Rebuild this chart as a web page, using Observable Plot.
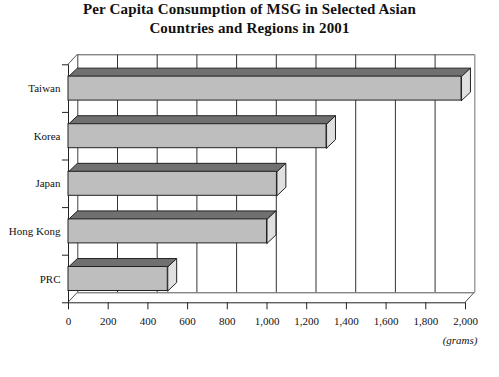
<!DOCTYPE html>
<html>
<head>
<meta charset="utf-8">
<script src="https://cdn.jsdelivr.net/npm/d3@7"></script>
<script src="https://cdn.jsdelivr.net/npm/@observablehq/plot@0.6"></script>
<style>
  html, body { margin: 0; padding: 0; background: #fff; }
  #title { width: 499px; height: 40px; text-align: center; font: bold 15px "Liberation Serif", "DejaVu Serif", serif; letter-spacing: 0.15px; line-height: 19px; color: #111; }
  #chart svg { display: block; }
</style>
</head>
<body>
<div id="title">Per Capita Consumption of MSG in Selected Asian<br>Countries and Regions in 2001</div>
<div id="chart"></div>
<script>
// Data (bottom to top)
const categories = ["PRC", "Hong Kong", "Japan", "Korea", "Taiwan"];
const values = [500, 1000, 1050, 1300, 1980];
const xTicks = [0, 200, 400, 600, 800, 1000, 1200, 1400, 1600, 1800, 2000];
const unitLabel = "(grams)";

// style constants
const half = 0.252;      // half bar thickness (y units)
const depthX = 45;       // bar depth (x units)
const depthY = 0.178;    // bar depth (y units)
const wallDx = 9.3, wallDy = -10; // back wall offset in px

const bars = categories.map((c, i) => ({c, i, v: values[i], yc: i + 0.5}));
const topFaces = bars.flatMap(b => {
  const y0 = b.yc + half, y1 = y0 + depthY;
  return [[0, y0], [b.v, y0], [b.v + depthX, y1], [depthX, y1], [0, y0]].map(([x, y]) => ({id: b.c, x, y}));
});
const sideFaces = bars.flatMap(b => {
  const yb = b.yc - half, yt = b.yc + half;
  return [[b.v, yb], [b.v, yt], [b.v + depthX, yt + depthY], [b.v + depthX, yb + depthY], [b.v, yb]].map(([x, y]) => ({id: b.c, x, y}));
});
const corners = [{x: 0, y: 5}, {x: 0, y: 0}, {x: 2000, y: 0}];

const svgH = 337;
const plot = Plot.plot({
  width: 499,
  height: svgH,
  marginLeft: 68,
  marginRight: 34,
  marginTop: 24.3,
  marginBottom: 74.7,
  style: {fontFamily: "'Liberation Serif', 'DejaVu Serif', serif", fontSize: "11px", color: "#111", background: "#fff"},
  x: {domain: [0, 2000], label: null},
  y: {domain: [0, 5], label: null},
  marks: [
    // back wall grid lines
    Plot.ruleX(xTicks.slice(1, -1), {x: d => d, y1: 0, y2: 5, dx: wallDx, dy: wallDy, stroke: "#333", strokeWidth: 1}),
    // back wall borders
    Plot.ruleX([0], {x: d => d, y1: 0, y2: 5, dx: wallDx, dy: wallDy, stroke: "#444", strokeWidth: 1}),
    Plot.ruleX([2000], {x: d => d, y1: 0, y2: 5, dx: wallDx, dy: wallDy, stroke: "#888", strokeWidth: 1.2}),
    Plot.ruleY([0, 5], {y: d => d, x1: 0, x2: 2000, dx: wallDx, dy: wallDy, stroke: "#555", strokeWidth: 1}),
    // diagonal corners (front frame corner to back wall corner)
    Plot.link(corners, {x1: "x", y1: "y", x2: "x", y2: "y", stroke: "#555", strokeWidth: 1,
      render: (index, scales) => {
        const g = d3.create("svg:g");
        for (const d of corners) {
          const px = scales.x(d.x), py = scales.y(d.y);
          g.append("line").attr("x1", px).attr("y1", py).attr("x2", px + wallDx).attr("y2", py + wallDy)
            .attr("stroke", "#555").attr("stroke-width", 1);
        }
        return g.node();
      }}),
    // front axis lines
    Plot.ruleX([0], {x: d => d, y1: 0, y2: 5, stroke: "#222", strokeWidth: 1}),
    Plot.ruleY([0], {y: d => d, x1: 0, x2: 2000, stroke: "#222", strokeWidth: 1}),
    // bars: top faces, side faces, front faces
    Plot.line(topFaces, {x: "x", y: "y", z: "id", fill: "#707070", stroke: "#222", strokeWidth: 1, strokeLinejoin: "miter", curve: "linear"}),
    Plot.line(sideFaces, {x: "x", y: "y", z: "id", fill: "#e0e0e0", stroke: "#222", strokeWidth: 1, strokeLinejoin: "miter", curve: "linear"}),
    Plot.rect(bars, {x1: 0, x2: "v", y1: d => d.yc - half, y2: d => d.yc + half, fill: "#bebebe", stroke: "#222", strokeWidth: 1}),
    // axes
    Plot.axisX(xTicks, {tickSize: 7, tickPadding: 7, tickFormat: d3.format(","), stroke: "#222", fontSize: 11, label: null}),
    Plot.axisY([0, 1, 2, 3, 4, 5], {tickSize: 6, tickFormat: () => "", stroke: "#222", label: null}),
    Plot.axisY(bars.map(b => b.yc), {tickSize: 0, tickPadding: 8, tickFormat: (d) => categories[Math.floor(d)], fontSize: 11, label: null}),
    Plot.text([unitLabel], {x: 2000, y: 0, text: d => d, dx: 12, dy: 38, textAnchor: "end", fontStyle: "italic", fontSize: 11})
  ]
});
document.getElementById("chart").appendChild(plot);
</script>
</body>
</html>
